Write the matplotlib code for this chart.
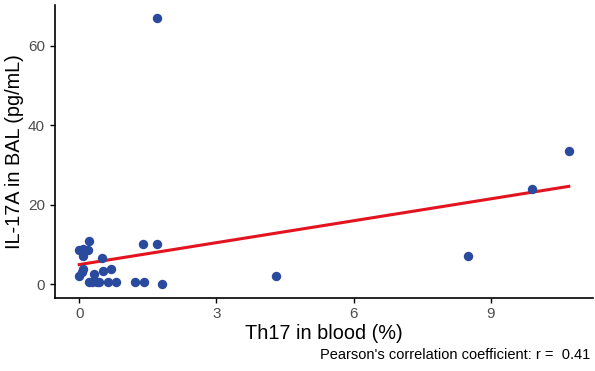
import numpy as np
import matplotlib
matplotlib.use("Agg")
import matplotlib.pyplot as plt

plt.rcParams['font.family'] = ['Liberation Sans', 'DejaVu Sans']

# Th17 in blood (%) vs IL-17A in BAL (pg/mL)
th17 = [0.22, 0.0, 0.09, 0.20, 0.09, 0.50,
        0.09, 0.05, 0.0, 0.33, 0.51, 0.70,
        0.22, 0.29, 0.38, 0.44, 0.62, 0.81, 1.21, 1.42, 1.80,
        1.40, 1.71, 1.71, 4.30, 8.50, 9.90, 10.70]
il17a = [10.9, 8.6, 8.9, 8.6, 7.0, 6.7,
         3.8, 3.0, 2.0, 2.6, 3.4, 3.9,
         0.5, 0.5, 0.5, 0.5, 0.5, 0.5, 0.5, 0.5, 0.0,
         10.1, 10.1, 67.0, 2.0, 7.2, 23.9, 33.5]

x_ticks = [0, 3, 6, 9]
y_ticks = [0, 20, 40, 60]

x = np.array(th17)
y = np.array(il17a)
slope, intercept = np.polyfit(x, y, 1)

fig = plt.figure(figsize=(5.95, 3.71), dpi=100)
ax = fig.add_axes([0.092, 0.198, 0.905, 0.789])

ax.scatter(x, y, s=46, color='#2a4a9e', zorder=3, linewidths=0)
xs = np.array([x.min(), x.max()])
ax.plot(xs, intercept + slope * xs, color='#e3141f', lw=2.2, zorder=2)

xr = x.max() - x.min()
yr = y.max() - y.min()
ax.set_xlim(x.min() - 0.05 * xr, x.max() + 0.05 * xr)
ax.set_ylim(y.min() - 0.05 * yr, y.max() + 0.05 * yr)
ax.set_xticks(x_ticks)
ax.set_yticks(y_ticks)

for s in ['top', 'right']:
    ax.spines[s].set_visible(False)
for s in ['left', 'bottom']:
    ax.spines[s].set_linewidth(1.2)
ax.tick_params(labelsize=11, labelcolor='#4d4d4d', length=3.5, width=1.0)

ax.set_xlabel('Th17 in blood (%)', fontsize=14.3, labelpad=2)
ax.set_ylabel('IL-17A in BAL (pg/mL)', fontsize=14.3, labelpad=3)

fig.text(0.992, 0.025, "Pearson's correlation coefficient: r =  %.2f" % 0.41,
         ha='right', va='bottom', fontsize=10.5)

fig.savefig('out.png', dpi=100)
